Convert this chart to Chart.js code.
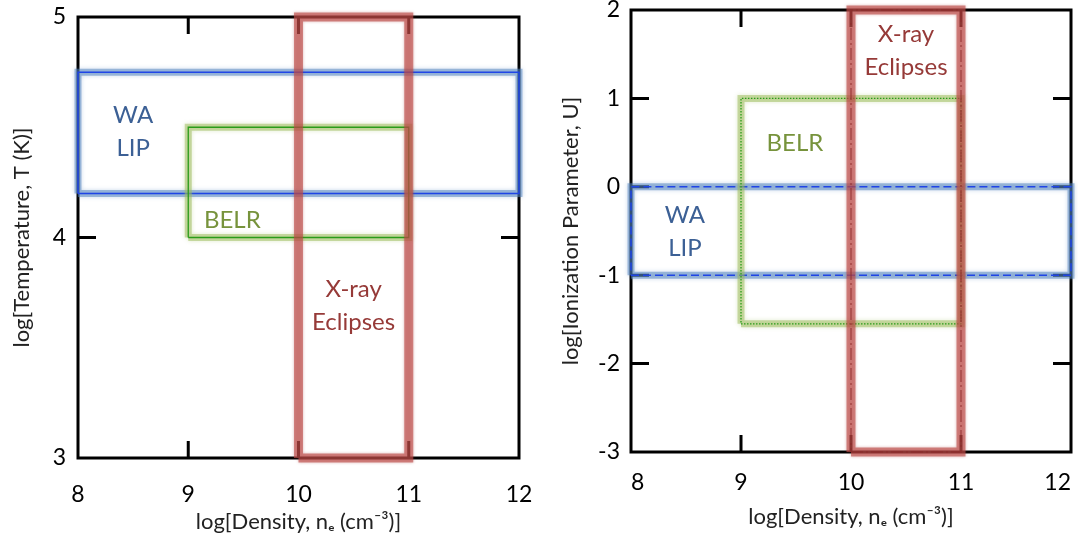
<!DOCTYPE html>
<html><head><meta charset="utf-8">
<script src="https://cdn.jsdelivr.net/npm/chart.js@4.4.0/dist/chart.umd.min.js"></script>
<style>
html,body{margin:0;padding:0;background:#fff;}
#wrap{position:relative;width:1078px;height:537px;overflow:hidden;background:#fff;}
canvas{position:absolute;top:0;}
#c1{left:0;}
#c2{left:540px;}
</style></head><body>
<div id="wrap"><canvas id="c1" width="540" height="537"></canvas><canvas id="c2" width="538" height="537"></canvas></div>
<script>
// ---------- data ----------
const densityTicks = [8, 9, 10, 11, 12];
const temperatureTicks = [3, 4, 5];
const ionizationTicks = [-3, -2, -1, 0, 1, 2];
const regionNames = ['WA LIP', 'BELR', 'X-ray Eclipses'];
// density range [min, max] for WA, BELR, X-ray
const densityRanges = [[8, 12], [9, 11], [10, 11]];
// temperature range (left panel)
const temperatureRanges = [[4.2, 4.75], [4.0, 4.5], [3, 5]];
// ionization parameter range (right panel)
const ionizationRanges = [[-1, 0], [-1.55, 1], [-3, 2]];
// label anchor points in data units
const temperatureLabelAt = [[8.5, 4.48], [9.4, 4.08], [10.5, 3.69]];
const ionizationLabelAt = [[8.49, -0.51], [9.49, 0.49], [10.5, 1.54]];

// ---------- styles ----------
const FONT = 'Lato, "Open Sans", "DejaVu Sans", sans-serif';
const textColors = ['#3c6095', '#77933c', '#963a38'];

function boxPoints(xr, yr) {
  return [
    {x: xr[0], y: yr[0]}, {x: xr[1], y: yr[0]}, {x: xr[1], y: yr[1]},
    {x: xr[0], y: yr[1]}, {x: xr[0], y: yr[0]}
  ];
}
function lineDs(pts, color, width, order, extra) {
  return Object.assign({
    data: pts, showLine: true, borderColor: color, borderWidth: width,
    pointRadius: 0, pointHoverRadius: 0, fill: false, tension: 0,
    borderJoinStyle: 'miter', borderCapStyle: 'butt', clip: false, order: order
  }, extra || {});
}
function buildDatasets(yRanges, dashed) {
  const ds = [];
  const blue = boxPoints(densityRanges[0], yRanges[0]);
  const green = boxPoints(densityRanges[1], yRanges[1]);
  const red = boxPoints(densityRanges[2], yRanges[2]);
  ds.push(lineDs(blue, 'rgba(79,129,189,0.5)', 7, 60, {glow: 'rgba(79,129,189,0.6)', blur: 4}));
  ds.push(lineDs(blue, '#1f45e6', 1.5, 50, dashed ? {borderDash: [8, 4]} : {}));
  ds.push(lineDs(green, 'rgba(155,187,89,0.5)', 7, 40, {glow: 'rgba(155,187,89,0.6)', blur: 4}));
  ds.push(lineDs(green, '#2a9c1a', 1.3, 30, dashed ? {borderDash: [1.5, 1.5]} : {}));
  ds.push(lineDs(red, 'rgba(190,76,73,0.62)', 9, 20, {glow: 'rgba(160,50,48,0.6)', blur: 3}));
  if (dashed) ds.push(lineDs(red, 'rgba(140,40,40,0.6)', 1.5, 10, {borderDash: [12, 3, 2, 3]}));
  return ds;
}

const glowPlugin = {
  id: 'glow',
  beforeDatasetDraw(chart, args) {
    const d = chart.data.datasets[args.index];
    if (d.glow) { chart.ctx.save(); chart.ctx.shadowColor = d.glow; chart.ctx.shadowBlur = d.blur; }
  },
  afterDatasetDraw(chart, args) {
    const d = chart.data.datasets[args.index];
    if (d.glow) chart.ctx.restore();
  }
};

const framePlugin = {
  id: 'frame',
  beforeDatasetsDraw(chart) {
    const {ctx, chartArea: a, scales} = chart;
    ctx.save();
    ctx.strokeStyle = '#000';
    ctx.lineWidth = 3;
    ctx.lineCap = 'butt';
    ctx.beginPath();
    scales.x.ticks.forEach(t => {
      if (t.value <= scales.x.min || t.value >= scales.x.max) return;
      const px = scales.x.getPixelForValue(t.value);
      ctx.moveTo(px, a.top); ctx.lineTo(px, a.top + 17);
      ctx.moveTo(px, a.bottom); ctx.lineTo(px, a.bottom - 17);
    });
    scales.y.ticks.forEach(t => {
      if (t.value <= scales.y.min || t.value >= scales.y.max) return;
      const py = scales.y.getPixelForValue(t.value);
      ctx.moveTo(a.left, py); ctx.lineTo(a.left + 18, py);
      ctx.moveTo(a.right, py); ctx.lineTo(a.right - 18, py);
    });
    ctx.stroke();
    ctx.lineJoin = 'miter';
    ctx.strokeRect(a.left, a.top, a.right - a.left, a.bottom - a.top);
    ctx.restore();
  }
};

const labelPlugin = {
  id: 'regionLabels',
  afterDatasetsDraw(chart, args, opts) {
    const {ctx, scales} = chart;
    ctx.save();
    ctx.font = '24px ' + FONT;
    ctx.textAlign = 'center';
    ctx.textBaseline = 'middle';
    regionNames.forEach((name, i) => {
      const [vx, vy] = opts.anchors[i];
      const px = scales.x.getPixelForValue(vx);
      const py = scales.y.getPixelForValue(vy);
      const lines = name === 'BELR' ? [name] : (name === 'WA LIP' ? ['WA', 'LIP'] : ['X-ray', 'Eclipses']);
      const lh = 33;
      ctx.fillStyle = textColors[i];
      lines.forEach((ln, k) => {
        ctx.fillText(ln, px, py + (k - (lines.length - 1) / 2) * lh);
      });
    });
    ctx.restore();
  }
};

function makeChart(id, cfg) {
  return new Chart(document.getElementById(id), {
    type: 'scatter',
    data: {datasets: buildDatasets(cfg.yRanges, cfg.dashed)},
    plugins: [glowPlugin, framePlugin, labelPlugin],
    options: {
      responsive: false,
      animation: false,
      events: [],
      layout: {padding: cfg.padding},
      plugins: {legend: {display: false}, tooltip: {enabled: false}, regionLabels: {anchors: cfg.anchors}},
      scales: {
        x: {
          type: 'linear', min: densityTicks[0], max: densityTicks[densityTicks.length - 1],
          afterBuildTicks: s => { s.ticks = densityTicks.map(v => ({value: v})); },
          afterFit: s => { s.height = cfg.xHeight; s.paddingLeft = 0; s.paddingRight = 0; },
          grid: {display: false, drawTicks: false}, border: {display: false},
          ticks: {color: '#000', font: {family: FONT, size: 23}, padding: cfg.xTickPad, maxRotation: 0, autoSkip: false, align: cfg.xAlign},
          title: {display: true, text: 'log[Density, nₑ (cm⁻³)]', color: '#222', font: {family: FONT, size: 22}, padding: {top: 0, bottom: cfg.xTitlePad}}
        },
        y: {
          type: 'linear', min: cfg.yTicks[0], max: cfg.yTicks[cfg.yTicks.length - 1],
          afterBuildTicks: s => { s.ticks = cfg.yTicks.map(v => ({value: v})); },
          afterFit: s => { s.width = cfg.yWidth; s.paddingTop = 0; s.paddingBottom = 0; },
          grid: {display: false, drawTicks: false}, border: {display: false},
          ticks: {color: '#000', font: {family: FONT, size: 23}, padding: cfg.yTickPad, autoSkip: false},
          title: {display: true, text: cfg.yTitle, color: '#222', font: {family: FONT, size: 22}, padding: {top: cfg.yTitlePad, bottom: 0}}
        }
      }
    }
  });
}

makeChart('c1', {
  yRanges: temperatureRanges, dashed: false, anchors: temperatureLabelAt,
  yTicks: temperatureTicks, yTitle: 'log[Temperature, T (K)]',
  padding: {top: 17, right: 21, left: 0, bottom: 0}, xAlign: 'center',
  xHeight: 79, yWidth: 78, xTickPad: 23, xTitlePad: 2, yTickPad: 12, yTitlePad: 9
});
makeChart('c2', {
  yRanges: ionizationRanges, dashed: true, anchors: ionizationLabelAt,
  yTicks: ionizationTicks, yTitle: 'log[Ionization Parameter, U]',
  padding: {top: 10, right: 7, left: 0, bottom: 0}, xAlign: 'inner',
  xHeight: 85, yWidth: 91, xTickPad: 17, xTitlePad: 7, yTickPad: 11, yTitlePad: 18
});
</script>
</body></html>
